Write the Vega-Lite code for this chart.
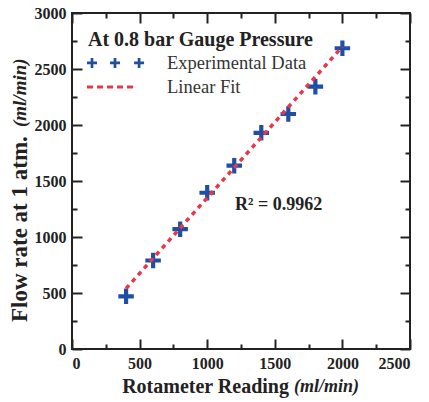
{
  "$schema": "https://vega.github.io/schema/vega-lite/v6.json",
  "width": 338,
  "height": 336,
  "autosize": {"type": "none"},
  "padding": {"left": 72, "top": 13, "right": 19, "bottom": 53},
  "background": "white",
  "config": {
    "view": {"stroke": "#222", "strokeWidth": 2},
    "font": "'Liberation Serif', 'Times New Roman', Times, serif",
    "axis": {
      "grid": false,
      "domain": false,
      "title": null,
      "tickColor": "#222",
      "tickWidth": 2,
      "labelFont": "'Liberation Serif', 'Times New Roman', Times, serif",
      "labelFontWeight": "bold",
      "labelFontSize": 16,
      "labelColor": "#222",
      "format": "d"
    }
  },
  "datasets": {
    "exp": [
      {"rotameter": 400, "flow": 470},
      {"rotameter": 600, "flow": 790},
      {"rotameter": 800, "flow": 1070},
      {"rotameter": 1000, "flow": 1395},
      {"rotameter": 1200, "flow": 1637},
      {"rotameter": 1400, "flow": 1930},
      {"rotameter": 1600, "flow": 2098},
      {"rotameter": 1800, "flow": 2342},
      {"rotameter": 2000, "flow": 2685}
    ],
    "fit": [
      {"rotameter": 400, "flow": 540},
      {"rotameter": 2000, "flow": 2700}
    ],
    "legendCross": [
      {"lx": 148, "ly": 2554},
      {"lx": 318, "ly": 2554},
      {"lx": 496, "ly": 2554}
    ],
    "one": [{}]
  },
  "resolve": {"axis": {"x": "independent", "y": "independent"}},
  "layer": [
    {
      "data": {"name": "exp"},
      "mark": {"type": "point", "shape": "M-1,-0.27H1V0.27H-1Z M-0.27,-1H0.27V1H-0.27Z", "filled": true, "size": 240, "color": "#1f4ea3", "opacity": 1},
      "encoding": {
        "x": {"field": "rotameter", "type": "quantitative", "scale": {"domain": [0, 2500], "nice": false},
              "axis": {"orient": "bottom", "values": [0, 500, 1000, 1500, 2000, 2500], "tickSize": -10, "labelPadding": 16, "format": "d"}},
        "y": {"field": "flow", "type": "quantitative", "scale": {"domain": [0, 3000], "nice": false},
              "axis": {"orient": "left", "values": [0, 500, 1000, 1500, 2000, 2500, 3000], "tickSize": -10, "labelPadding": 16, "format": "d"}}
      }
    },
    {
      "data": {"name": "fit"},
      "mark": {"type": "line", "color": "#e8374a", "strokeWidth": 3.5, "strokeDash": [4.5, 4.5]},
      "encoding": {
        "x": {"field": "rotameter", "type": "quantitative",
              "axis": {"orient": "top", "values": [0, 500, 1000, 1500, 2000, 2500], "tickSize": -10, "labels": false}},
        "y": {"field": "flow", "type": "quantitative",
              "axis": {"orient": "right", "values": [0, 500, 1000, 1500, 2000, 2500, 3000], "tickSize": -10, "labels": false}}
      }
    },
    {
      "data": {"name": "legendCross"},
      "mark": {"type": "point", "shape": "M-1,-0.27H1V0.27H-1Z M-0.27,-1H0.27V1H-0.27Z", "filled": true, "size": 100, "color": "#1f4ea3", "opacity": 1},
      "encoding": {
        "x": {"field": "lx", "type": "quantitative",
              "axis": {"orient": "bottom", "values": [250, 750, 1250, 1750, 2250], "tickSize": -5, "labels": false}},
        "y": {"field": "ly", "type": "quantitative",
              "axis": {"orient": "left", "values": [250, 750, 1250, 1750, 2250, 2750], "tickSize": -5, "labels": false}}
      }
    },
    {
      "data": {"name": "one"},
      "mark": {"type": "rule", "color": "#e8374a", "strokeWidth": 3, "strokeDash": [6, 4]},
      "encoding": {
        "x": {"datum": 111, "type": "quantitative",
              "axis": {"orient": "top", "values": [250, 750, 1250, 1750, 2250], "tickSize": -5, "labels": false}},
        "x2": {"datum": 481},
        "y": {"datum": 2339, "type": "quantitative",
              "axis": {"orient": "right", "values": [250, 750, 1250, 1750, 2250, 2750], "tickSize": -5, "labels": false}}
      }
    },
    {
      "data": {"name": "one"},
      "mark": {"type": "text", "text": "At 0.8 bar Gauge Pressure", "font": "'Liberation Serif', 'Times New Roman', serif", "fontWeight": "bold", "fontSize": 20, "align": "left", "baseline": "middle", "color": "#222"},
      "encoding": {
        "x": {"datum": 118, "type": "quantitative", "axis": null},
        "y": {"datum": 2759, "type": "quantitative", "axis": null}
      }
    },
    {
      "data": {"name": "one"},
      "mark": {"type": "text", "text": "Experimental Data", "font": "'Liberation Serif', 'Times New Roman', serif", "fontSize": 18.5, "align": "left", "baseline": "middle", "color": "#333"},
      "encoding": {
        "x": {"datum": 703, "type": "quantitative", "axis": null},
        "y": {"datum": 2554, "type": "quantitative", "axis": null}
      }
    },
    {
      "data": {"name": "one"},
      "mark": {"type": "text", "text": "Linear Fit", "font": "'Liberation Serif', 'Times New Roman', serif", "fontSize": 18.5, "align": "left", "baseline": "middle", "color": "#333"},
      "encoding": {
        "x": {"datum": 703, "type": "quantitative", "axis": null},
        "y": {"datum": 2339, "type": "quantitative", "axis": null}
      }
    },
    {
      "data": {"name": "one"},
      "mark": {"type": "text", "text": "R² = 0.9962", "font": "'Liberation Serif', 'Times New Roman', serif", "fontWeight": "bold", "fontSize": 18, "align": "left", "baseline": "middle", "color": "#222"},
      "encoding": {
        "x": {"datum": 1206, "type": "quantitative", "axis": null},
        "y": {"datum": 1286, "type": "quantitative", "axis": null}
      }
    },
    {
      "data": {"name": "one"},
      "mark": {"type": "text", "text": "Rotameter Reading", "font": "'Liberation Serif', 'Times New Roman', serif", "fontWeight": "bold", "fontSize": 20, "align": "right", "baseline": "middle", "color": "#222"},
      "encoding": {
        "x": {"datum": 1605, "type": "quantitative", "axis": null},
        "y": {"datum": -339, "type": "quantitative", "axis": null}
      }
    },
    {
      "data": {"name": "one"},
      "mark": {"type": "text", "text": "(ml/min)", "font": "'Liberation Serif', 'Times New Roman', serif", "fontWeight": "bold", "fontStyle": "italic", "fontSize": 18, "align": "left", "baseline": "middle", "color": "#222"},
      "encoding": {
        "x": {"datum": 1642, "type": "quantitative", "axis": null},
        "y": {"datum": -339, "type": "quantitative", "axis": null}
      }
    },
    {
      "data": {"name": "one"},
      "mark": {"type": "text", "text": "Flow rate at 1 atm.", "font": "'Liberation Serif', 'Times New Roman', serif", "fontWeight": "bold", "fontSize": 23, "align": "left", "baseline": "middle", "angle": 270, "color": "#222"},
      "encoding": {
        "x": {"datum": -385, "type": "quantitative", "axis": null},
        "y": {"datum": 241, "type": "quantitative", "axis": null}
      }
    },
    {
      "data": {"name": "one"},
      "mark": {"type": "text", "text": "(ml/min)", "font": "'Liberation Serif', 'Times New Roman', serif", "fontWeight": "bold", "fontStyle": "italic", "fontSize": 19, "align": "left", "baseline": "middle", "angle": 270, "color": "#222"},
      "encoding": {
        "x": {"datum": -385, "type": "quantitative", "axis": null},
        "y": {"datum": 1982, "type": "quantitative", "axis": null}
      }
    }
  ]
}
